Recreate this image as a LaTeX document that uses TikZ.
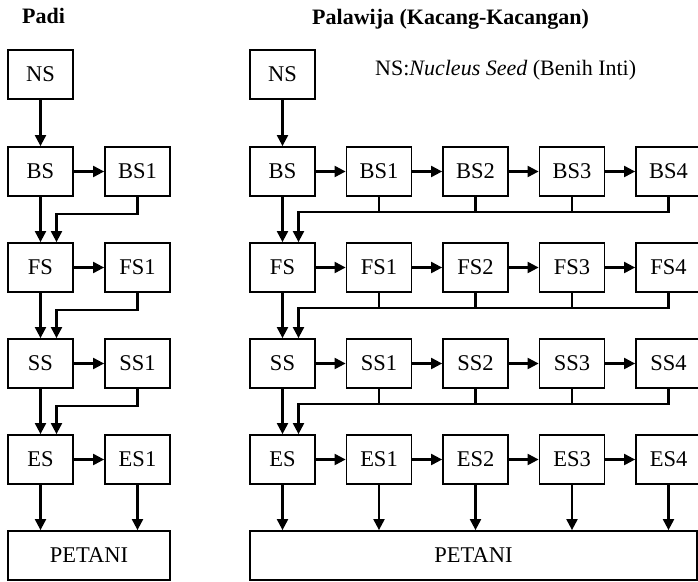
\documentclass[tikz,border=0pt]{standalone}
\usepackage{fontspec}
\setmainfont{Liberation Serif}
\usetikzlibrary{arrows.meta,calc}
\begin{document}
\begin{tikzpicture}[x=1pt,y=-1pt,
  box/.style={draw,line width=1.8pt,minimum width=65pt,minimum height=49pt,inner sep=0pt,font=\fontsize{22.5}{26}\selectfont},
  wbox/.style={box,minimum width=#1},
  arr/.style={line width=2.1pt,-{Triangle[length=11pt,width=11pt]}},
  ln/.style={line width=2.1pt},
  ttl/.style={font=\fontsize{22}{26}\selectfont\bfseries,inner sep=0pt,anchor=base west},
  note/.style={font=\fontsize{22}{26}\selectfont,inner sep=0pt,anchor=base west}]
\useasboundingbox (0,0) rectangle (698,581);
\fill[white] (0,0) rectangle (698,581);
% titles
\node[ttl] (tpadi) at (22,23.5) {Padi};
\node[ttl] (tpal) at (312,24) {Palawija (Kacang-Kacangan)};
\node[note] (tnote) at (375,75) {NS:\textit{Nucleus Seed} (Benih Inti)};
% left column (Padi)
\node[box] (LNS) at (40.5,74.5) {NS};
\foreach \r/\y in {BS/171.5,FS/267.5,SS/363.5,ES/459.5}{
  \node[box] (L\r) at (40.5,\y) {\r};
  \node[box] (L\r1) at (137.5,\y) {\r1};
  \draw[arr] (L\r.east) -- (L\r1.west);
}
\node[wbox=162pt] (LPET) at (89,555.5) {PETANI};
\draw[arr] (LNS.south) -- (LBS.north);
\foreach \a/\b in {BS/FS,FS/SS,SS/ES}{
  \draw[arr] (L\a.south) -- (L\b.north);
  \draw[arr] (L\a1.south) -- ++(0,17) -| ($(L\b.north)+(16,0)$);
}
\draw[arr] (LES.south) -- (LES.south |- LPET.north);
\draw[arr] (LES1.south) -- (LES1.south |- LPET.north);
% right column (Palawija)
\node[box] (RNS) at (282.5,74.5) {NS};
\foreach \r/\y in {BS/171.5,FS/267.5,SS/363.5,ES/459.5}{
  \node[box] (R\r) at (282.5,\y) {\r};
  \foreach \k in {1,2,3,4}{
    \node[box] (R\r\k) at ({282.5+96.5*\k},\y) {\r\k};
  }
  \draw[arr] (R\r.east) -- (R\r1.west);
  \draw[arr] (R\r1.east) -- (R\r2.west);
  \draw[arr] (R\r2.east) -- (R\r3.west);
  \draw[arr] (R\r3.east) -- (R\r4.west);
}
\node[wbox=447pt] (RPET) at (473.5,555.5) {PETANI};
\draw[arr] (RNS.south) -- (RBS.north);
\foreach \a/\b in {BS/FS,FS/SS,SS/ES}{
  \draw[arr] (R\a.south) -- (R\b.north);
  \draw[arr] (R\a4.south) -- ++(0,15.5) -| ($(R\b.north)+(16,0)$);
  \foreach \k in {1,2,3}{
    \draw[ln] (R\a\k.south) -- ++(0,15.5);
  }
}
\draw[arr] (RES.south) -- (RES.south |- RPET.north);
\foreach \k in {1,2,3,4}{
  \draw[arr] (RES\k.south) -- (RES\k.south |- RPET.north);
}
\end{tikzpicture}
\end{document}
